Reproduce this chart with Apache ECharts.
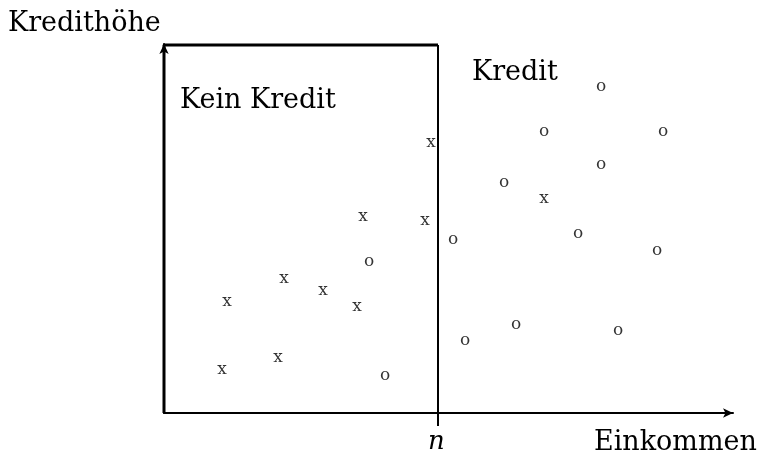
<!DOCTYPE html>
<html>
<head>
<meta charset="utf-8">
<script src="https://cdn.jsdelivr.net/npm/echarts@6/dist/echarts.min.js"></script>
<style>
  html, body { margin: 0; padding: 0; background: #fff; }
  #chart { width: 760px; height: 456px; }
</style>
</head>
<body>
<div id="chart"></div>
<script>
// Applicants: income (x) vs. credit amount (y), arbitrary units
const noCredit = [
  [267, 271], [199, 197], [261, 193], [120, 135], [159, 123],
  [63, 112], [193, 107], [114, 56], [58, 44], [380, 215]
];
const credit = [
  [437, 327], [380, 282], [499, 282], [437, 249], [340, 231],
  [289, 174], [414, 180], [493, 163], [205, 152], [352, 89],
  [301, 73], [454, 83], [221, 38]
];
// income threshold n and the upper edge of the "no credit" region
const threshold = 274;
const boxTop = 368;
const xMax = 569;
const yMax = 369;

const FONT = '"DejaVu Serif", "Liberation Serif", serif';

const chart = echarts.init(document.getElementById('chart'));

function markerSeries(data, glyph) {
  return {
    type: 'scatter',
    data: data,
    symbolSize: 1,
    itemStyle: { color: 'rgba(0,0,0,0)' },
    label: {
      show: true,
      position: 'inside',
      formatter: glyph,
      color: '#000',
      fontFamily: FONT,
      fontSize: 17,
      offset: [0, 1]
    },
    silent: true,
    z: 5
  };
}

chart.setOption({
  animation: false,
  backgroundColor: '#fff',
  grid: { left: 164, top: 44, width: 569, height: 369 },
  xAxis: {
    type: 'value', min: 0, max: xMax,
    axisLine: { show: true, onZero: false, symbol: ['none', 'arrow'], symbolSize: [7, 10],
                lineStyle: { color: '#000', width: 2 } },
    axisTick: { show: false }, axisLabel: { show: false }, splitLine: { show: false }
  },
  yAxis: {
    type: 'value', min: 0, max: yMax,
    axisLine: { show: true, onZero: false, symbol: ['none', 'arrow'], symbolSize: [7, 10],
                lineStyle: { color: '#000', width: 2 } },
    axisTick: { show: false }, axisLabel: { show: false }, splitLine: { show: false }
  },
  series: [
    {
      // left and top edge of the "no credit" region
      type: 'line',
      data: [[0, 0], [0, boxTop], [threshold, boxTop]],
      symbol: 'none',
      lineStyle: { color: '#000', width: 3 },
      clip: false,
      silent: true,
      z: 3
    },
    {
      // income threshold n, with its tick below the axis
      type: 'line',
      data: [[threshold, boxTop], [threshold, -13]],
      symbol: 'none',
      lineStyle: { color: '#000', width: 2 },
      clip: false,
      silent: true,
      z: 3
    },
    markerSeries(noCredit, 'x'),
    markerSeries(credit, 'o')
  ],
  graphic: [
    { type: 'text', left: 8, top: 10,
      style: { text: 'Kredithöhe', font: '27px ' + FONT, fill: '#000' } },
    { type: 'text', left: 594, top: 429,
      style: { text: 'Einkommen', font: '27px ' + FONT, fill: '#000' } },
    { type: 'text', left: 428, top: 429,
      style: { text: 'n', font: 'italic 26px ' + FONT, fill: '#000' } },
    { type: 'text', left: 180, top: 87,
      style: { text: 'Kein Kredit', font: '27px ' + FONT, fill: '#000' } },
    { type: 'text', left: 472, top: 59,
      style: { text: 'Kredit', font: '27px ' + FONT, fill: '#000' } }
  ]
});
</script>
</body>
</html>
